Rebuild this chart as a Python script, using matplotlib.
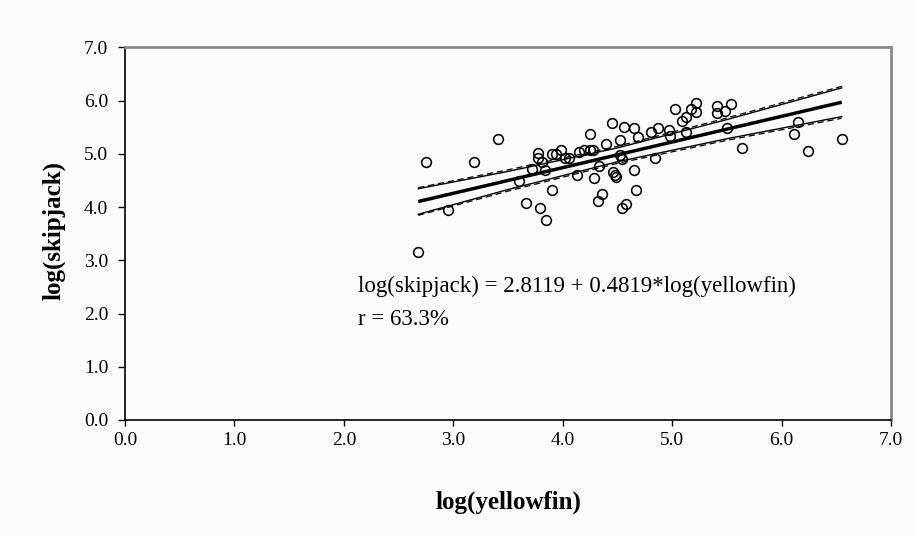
import matplotlib
matplotlib.use("Agg")
import matplotlib.pyplot as plt
import matplotlib.transforms as mtransforms
import numpy as np

# ---- data ----
yellowfin = [2.68, 2.75, 3.19, 3.41, 2.95, 3.60, 3.66, 3.79, 3.85, 3.90,
             3.77, 3.77, 3.81, 3.84, 3.72, 3.90, 3.94, 3.98, 4.02, 4.06,
             4.13, 4.15, 4.19, 4.25, 4.25, 4.28, 4.29, 4.33, 4.36, 4.32,
             4.40, 4.45, 4.46, 4.48, 4.49, 4.52, 4.54, 4.58, 4.56, 4.52,
             4.54, 4.65, 4.65, 4.67, 4.69, 4.81, 4.87, 4.84, 4.97, 4.98,
             5.03, 5.09, 5.13, 5.13, 5.17, 5.22, 5.22, 5.41, 5.41, 5.48,
             5.54, 5.50, 5.64, 6.15, 6.11, 6.24, 6.55]
skipjack = [3.15, 4.84, 4.84, 5.28, 3.94, 4.49, 4.08, 3.98, 3.75, 4.32,
            5.01, 4.92, 4.85, 4.70, 4.71, 5.00, 5.00, 5.07, 4.92, 4.92,
            4.60, 5.04, 5.07, 5.37, 5.07, 5.07, 4.54, 4.77, 4.24, 4.12,
            5.18, 5.58, 4.65, 4.60, 4.57, 5.25, 3.99, 4.06, 5.51, 4.98,
            4.90, 5.48, 4.70, 4.32, 5.32, 5.40, 5.48, 4.92, 5.45, 5.33,
            5.85, 5.62, 5.70, 5.40, 5.85, 5.96, 5.78, 5.90, 5.77, 5.80,
            5.93, 5.48, 5.10, 5.60, 5.37, 5.06, 5.28]

intercept = 2.8119
slope = 0.4819
r_text = "r = 63.3%"

# band half-widths read at a few x positions
band_x = [2.68, 3.5, 4.5, 5.5, 6.55]
band_solid = [0.24, 0.17, 0.13, 0.18, 0.27]
band_dash = [0.26, 0.20, 0.16, 0.21, 0.30]

xticks = [0, 1, 2, 3, 4, 5, 6, 7]
yticks = [0, 1, 2, 3, 4, 5, 6, 7]

# ---- figure ----
W, H = 917, 535
fig = plt.figure(figsize=(W / 100, H / 100), dpi=100, facecolor="#fcfcfc")
L, R, T, B = 125, 891, 47.3, 420
ax = fig.add_axes([L / W, 1 - B / H, (R - L) / W, (B - T) / H])
ax.set_facecolor("#fcfcfc")

serif = ["Liberation Serif", "DejaVu Serif"]

xs = np.array(yellowfin)
ys = np.array(skipjack)

# regression line
xl = np.array([xs.min(), xs.max()])
yl = intercept + slope * xl
ax.plot(xl, yl, color="black", lw=2.5, solid_capstyle="butt", zorder=3)

bx = np.array(band_x)
bfit = intercept + slope * bx
bs = np.array(band_solid)
bd = np.array(band_dash)
ax.plot(bx, bfit + bs, color="black", lw=1.0, zorder=3)
ax.plot(bx, bfit - bs, color="black", lw=1.0, zorder=3)
ax.plot(bx, bfit + bd, color="black", lw=0.9, ls=(0, (5, 3)), zorder=3)
ax.plot(bx, bfit - bd, color="black", lw=0.9, ls=(0, (5, 3)), zorder=3)

ax.plot(xs, ys, ls="none", marker="o", ms=7.0, mfc="none", mec="black",
        mew=1.15, zorder=4)

ax.set_xlim(0, 7)
ax.set_ylim(0, 7)
ax.set_xticks(xticks)
ax.set_yticks(yticks)
ax.set_xticklabels([f"{v:.1f}" for v in xticks], fontfamily=serif, fontsize=14)
ax.set_yticklabels([f"{v:.1f}" for v in yticks], fontfamily=serif, fontsize=14)
ax.tick_params(axis="y", direction="out", length=5, width=1, pad=7)
ax.tick_params(axis="x", direction="out", length=4.5, width=1, pad=4)

for s in ["left", "bottom"]:
    ax.spines[s].set_color("black")
    ax.spines[s].set_linewidth(1.2)
for s in ["top", "right"]:
    ax.spines[s].set_color("#8a8a8a")
    ax.spines[s].set_linewidth(2.0)

# equation text
tr = mtransforms.blended_transform_factory(ax.transAxes, ax.transData)
ax.text(0.304, 2.50, f"log(skipjack) = {intercept:.4f} + {slope:.4f}*log(yellowfin)",
        transform=tr, fontfamily=serif, fontsize=16.5, ha="left", va="center")
ax.text(0.304, 1.88, r_text, transform=tr,
        fontfamily=serif, fontsize=16.5, ha="left", va="center")

# axis labels
fig.text(508 / W, 1 - 502 / H, "log(yellowfin)", fontfamily=serif, fontsize=18,
         fontweight="bold", ha="center", va="center")
fig.text(53.5 / W, 1 - 230 / H, "log(skipjack)", fontfamily=serif, fontsize=18,
         fontweight="bold", ha="center", va="center", rotation=90)

fig.savefig("out.png", dpi=100, facecolor=fig.get_facecolor())
